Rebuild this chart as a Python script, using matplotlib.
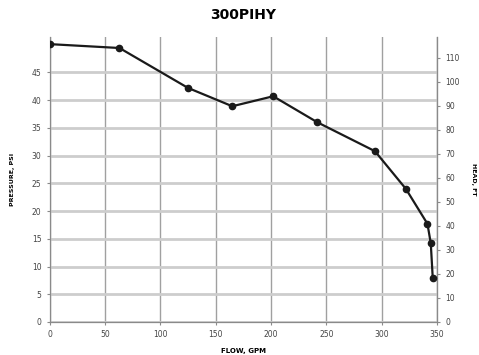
import matplotlib.pyplot as plt

# curva de la bomba 300PIHY
caudal_gpm = [0, 63, 125, 165, 202, 242, 294, 322, 341.5, 344.5, 346.3]
presion_psi = [50.1, 49.4, 42.2, 38.9, 40.7, 36.0, 30.8, 24.0, 17.7, 14.2, 7.9]

ticks_x = [0, 50, 100, 150, 200, 250, 300, 350]
ticks_psi = [0, 5, 10, 15, 20, 25, 30, 35, 40, 45]
ticks_ft = [0, 10, 20, 30, 40, 50, 60, 70, 80, 90, 100, 110]
PSI_A_PIES = 2.31

fig = plt.figure(figsize=(4.79, 3.55), dpi=100)
ax = fig.add_axes([0.104, 0.093, 0.808, 0.803])

ax.plot(caudal_gpm, presion_psi, color='#1a1a1a', lw=1.6, marker='o',
        markersize=4.5, zorder=5)

ax.set_xlim(0, 350)
ax.set_ylim(0, 51.4)
ax.set_xticks(ticks_x)
ax.set_yticks(ticks_psi)

ax.grid(True, axis='y', color='#cdcdcd', lw=2.0)
ax.grid(True, axis='x', color='#a0a0a0', lw=1.0)
ax.set_axisbelow(True)

for lado in ['left', 'right', 'top', 'bottom']:
    ax.spines[lado].set_color('#8a8a8a')
    ax.spines[lado].set_linewidth(0.9)
ax.spines['top'].set_visible(False)

ax.tick_params(axis='both', labelsize=5.5, length=2, pad=4,
               color='#8a8a8a', labelcolor='#444444')

ax.set_title('300PIHY', fontsize=10, fontweight='bold', pad=13)
ax.set_xlabel('FLOW, GPM', fontsize=5, fontweight='bold', labelpad=6)
ax.set_ylabel('PRESSURE, PSI', fontsize=4.5, fontweight='bold', labelpad=12)

ax2 = ax.secondary_yaxis('right', functions=(lambda p: p * PSI_A_PIES,
                                             lambda h: h / PSI_A_PIES))
ax2.set_yticks(ticks_ft)
ax2.spines['right'].set_color('#8a8a8a')
ax2.tick_params(labelsize=5.5, length=2, pad=4, color='#8a8a8a',
                labelcolor='#444444')
ax2.set_ylabel('HEAD, FT', fontsize=4.5, fontweight='bold', labelpad=8,
               rotation=270, va='bottom')

fig.savefig('out.png', dpi=100)
